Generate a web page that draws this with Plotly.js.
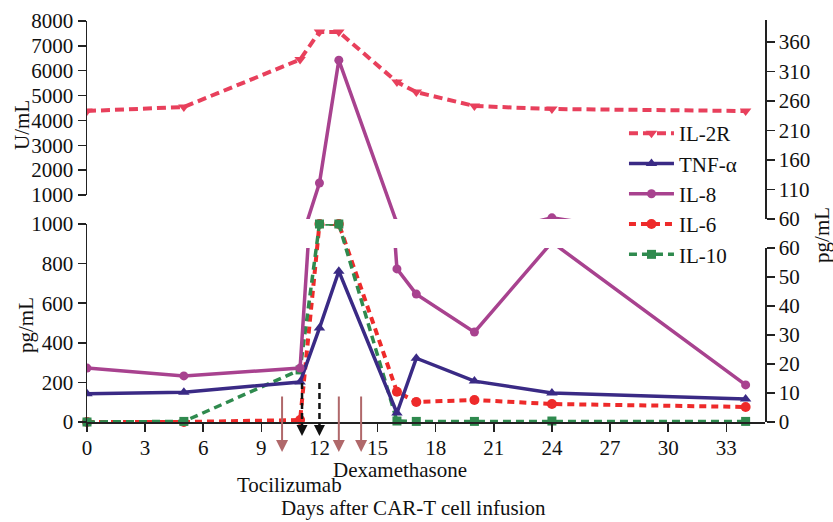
<!DOCTYPE html>
<html>
<head>
<meta charset="utf-8">
<script src="https://cdn.plot.ly/plotly-3.0.1.min.js"></script>
<style>body{margin:0;background:#fff}#chart{width:833px;height:522px}</style>
</head>
<body>
<div id="chart"></div>
<script>
// ---- data ----
const days = [0, 5, 11, 12, 13, 16, 17, 20, 24, 34];
const il2r = [4380, 4540, 6450, 7560, 7560, 5545, 5140, 4580, 4460, 4380]; // U/mL (left upper)
const tnf  = [9.7, 10.3, 13.8, 32.4, 52, 3.1, 22, 14.1, 10, 7.9];          // pg/mL (right)
const il8  = [18.6, 15.9, 18.6, 121, 329, 52.8, 44.1, 31, 62, 12.8];       // pg/mL (right, broken)
const il6  = [0, 0, 10, 1000, 1000, 153, 101, 111, 91, 76];                // pg/mL (left lower)
const il10 = [0, 3, 263, 1000, 1000, 5, 3, 3, 5, 3];                       // pg/mL (left lower)

const xTicks = [0, 3, 6, 9, 12, 15, 18, 21, 24, 27, 30, 33];
const leftLowTicks = [0, 200, 400, 600, 800, 1000];
const leftUpTicks = [1000, 2000, 3000, 4000, 5000, 6000, 7000, 8000];
const rightLowTicks = [0, 10, 20, 30, 40, 50, 60];
const rightUpTicks = [60, 110, 160, 210, 260, 310, 360];

const dexaDays = [10.07, 13.0, 14.15];
const tociDays = [11.1, 12.0];

const C = {il2r:'#e8405c', tnf:'#3a2a85', il8:'#a8428f', il6:'#ee2a2a', il10:'#2f8a4e', brown:'#b0686a'};
const FONT = '"Liberation Serif", "Times New Roman", serif';
const FS = 21;

const traces = [
  {x: days, y: il2r, name: 'IL-2R', yaxis: 'y2', mode: 'lines+markers',
   line: {color: C.il2r, width: 4, dash: '9px,5px'},
   marker: {symbol: 'triangle-down', size: 10, color: C.il2r}},
  {x: days, y: tnf, name: 'TNF-α', yaxis: 'y3', mode: 'lines+markers',
   line: {color: C.tnf, width: 3.5},
   marker: {symbol: 'triangle-up', size: 10, color: C.tnf}},
  {x: days, y: il8, name: 'IL-8', yaxis: 'y4', mode: 'lines+markers',
   line: {color: C.il8, width: 3.5},
   marker: {symbol: 'circle', size: 9, color: C.il8}},
  {x: days, y: il6, name: 'IL-6', yaxis: 'y', mode: 'lines+markers', cliponaxis: false,
   line: {color: C.il6, width: 4, dash: '7px,5px'},
   marker: {symbol: 'circle', size: 10, color: C.il6}},
  {x: days, y: il10, name: 'IL-10', yaxis: 'y', mode: 'lines+markers', cliponaxis: false,
   line: {color: C.il10, width: 3.5, dash: '8px,5px'},
   marker: {symbol: 'square', size: 9, color: C.il10}},
  {x: days, y: il8, name: 'IL-8', yaxis: 'y3', mode: 'lines+markers', showlegend: false,
   line: {color: C.il8, width: 3.5},
   marker: {symbol: 'circle', size: 9, color: C.il8}}
];

const axBase = {showgrid: false, zeroline: false, showline: true, linecolor: '#222', linewidth: 1.5,
  ticks: 'outside', ticklen: 8, tickwidth: 1.5, tickcolor: '#222',
  tickfont: {family: FONT, size: FS, color: '#111'}, tickmode: 'array', fixedrange: true};

const H = 402; // plot height px
const dom = (px) => (422 - px) / H;
const tf = {family: FONT, size: FS, color: '#111'};

const annotations = [
  {text: 'U/mL', xref: 'paper', yref: 'paper', x: -0.096, y: dom(125), textangle: -90, showarrow: false,
   xanchor: 'center', yanchor: 'middle', font: tf},
  {text: 'pg/mL', xref: 'paper', yref: 'paper', x: -0.09, y: dom(325), textangle: -90, showarrow: false,
   xanchor: 'center', yanchor: 'middle', font: tf},
  {text: 'pg/mL', xref: 'paper', yref: 'paper', x: 1.084, y: dom(235), textangle: -90, showarrow: false,
   xanchor: 'center', yanchor: 'middle', font: tf},
  {text: 'Days after CAR-T cell infusion', xref: 'paper', yref: 'paper', x: 0.481, y: dom(508), showarrow: false,
   xanchor: 'center', yanchor: 'middle', font: tf},
  {text: 'Tocilizumab', xref: 'x', yref: 'paper', x: 10.43, y: dom(485), showarrow: false,
   xanchor: 'center', yanchor: 'middle', font: tf},
  {text: 'Dexamethasone', xref: 'x', yref: 'paper', x: 16.16, y: dom(470), showarrow: false,
   xanchor: 'center', yanchor: 'middle', font: tf}
];
dexaDays.forEach(d => annotations.push({
  text: '', xref: 'x', yref: 'paper', x: d, y: dom(452), ax: 0, ay: -57, showarrow: true,
  arrowhead: 2, arrowsize: 1.2, arrowwidth: 2, arrowcolor: C.brown
}));
tociDays.forEach(d => annotations.push({
  text: '', xref: 'x', yref: 'paper', x: d, y: dom(436), ax: 0, ay: -12, showarrow: true,
  arrowhead: 2, arrowsize: 1.1, arrowwidth: 2, arrowcolor: '#111'
}));
const shapes = tociDays.map(d => ({type: 'line', xref: 'x', yref: 'paper', x0: d, x1: d,
  y0: dom(383), y1: dom(428), line: {color: '#111', width: 2.5, dash: '6px,4px'}}));

const layout = {
  width: 833, height: 522,
  margin: {l: 87, r: 68, t: 20, b: 100},
  paper_bgcolor: '#fff', plot_bgcolor: 'rgba(0,0,0,0)',
  font: {family: FONT, size: FS, color: '#111'},
  showlegend: true,
  legend: {x: 0.792, y: dom(113), xanchor: 'left', yanchor: 'top', bgcolor: 'rgba(0,0,0,0)',
    font: {family: FONT, size: FS, color: '#111'}, itemwidth: 45, tracegroupgap: 0},
  xaxis: Object.assign({}, axBase, {range: [0, 35], tickvals: xTicks, anchor: 'y', ticklabelstandoff: -2}),
  yaxis: Object.assign({}, axBase, {domain: [0, dom(224)], range: [0, 1000], tickvals: leftLowTicks, anchor: 'x'}),
  yaxis2: Object.assign({}, axBase, {domain: [dom(195), dom(21)], range: [1000, 8000], tickvals: leftUpTicks, anchor: 'x'}),
  yaxis3: Object.assign({}, axBase, {domain: [0, dom(248)], range: [0, 60], tickvals: rightLowTicks, anchor: 'x', side: 'right'}),
  yaxis4: Object.assign({}, axBase, {domain: [dom(219), 1], range: [60, 397], tickvals: rightUpTicks, anchor: 'x', side: 'right'}),
  annotations: annotations,
  shapes: shapes
};

Plotly.newPlot('chart', traces, layout, {staticPlot: true});
</script>
</body>
</html>
